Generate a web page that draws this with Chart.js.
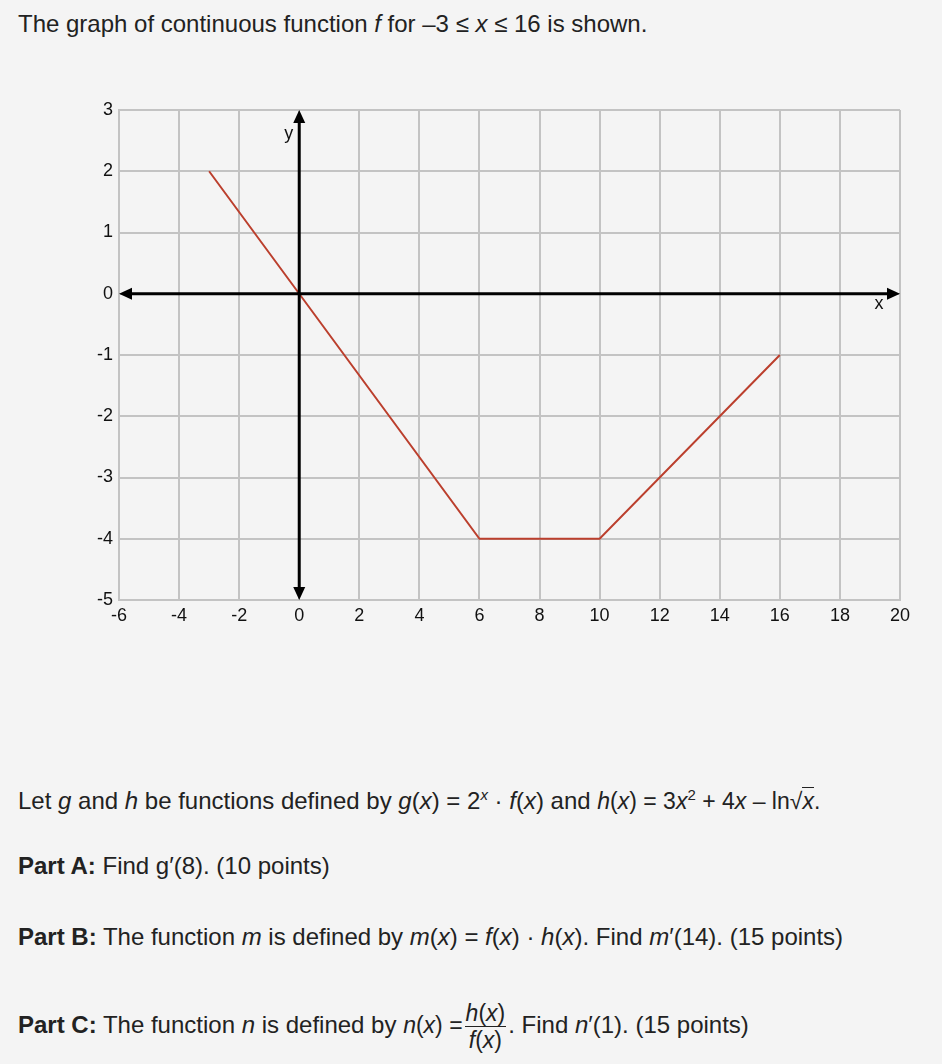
<!DOCTYPE html>
<html>
<head>
<meta charset="utf-8">
<script src="https://cdn.jsdelivr.net/npm/chart.js@4.4.1/dist/chart.umd.min.js"></script>
<style>
  body { margin: 0; background: #f4f4f4; color: #222; font-family: "Liberation Sans", Arial, Helvetica, sans-serif;
         width: 942px; height: 1064px; position: relative; overflow: hidden; }
  .t { position: absolute; left: 18px; font-size: 24px; line-height: 28px; white-space: nowrap; }
  .m { font-size: 23px; }
  .sq { border-top: 1.5px solid #222; }
  .frac { display: inline-block; vertical-align: middle; text-align: center; font-size: 23px; line-height: 26px; margin: 0 2px; }
  .frac span { display: block; }
  .frac .num { border-bottom: 1.5px solid #222; padding: 0 1px; }
  #wrap { position: absolute; left: 0; top: 90px; width: 942px; height: 550px; }
</style>
</head>
<body>
<div class="t" style="top:10px">The graph of continuous function <i>f</i> for –3 ≤ <i>x</i> ≤ 16 is shown.</div>
<div id="wrap"><canvas id="chart"></canvas></div>
<div class="t" style="top:781px">Let <i>g</i> and <i>h</i> be functions defined by <i>g</i>(<i>x</i>) = 2<sup style="font-size:15px"><i>x</i></sup> · <i>f</i>(<i>x</i>) and <span class="m"><i>h</i>(<i>x</i>) = 3<i>x</i><sup style="font-size:15px">2</sup> + 4<i>x</i> – ln√<span class="sq"><i>x</i></span>.</span></div>
<div class="t" style="top:852px"><b>Part A:</b> Find g′(8). (10 points)</div>
<div class="t" style="top:923px"><b>Part B:</b> The function <i>m</i> is defined by <i>m</i>(<i>x</i>) = <i>f</i>(<i>x</i>) · <i>h</i>(<i>x</i>). Find <i>m</i>′(14). (15 points)</div>
<div class="t" style="top:1000px"><b>Part C:</b> The function <i>n</i> is defined by <span class="m"><i>n</i>(<i>x</i>) =</span><span class="frac"><span class="num"><i>h</i>(<i>x</i>)</span><span><i>f</i>(<i>x</i>)</span></span>. Find <i>n</i>′(1). (15 points)</div>

<script>
// graph of f
var fX = [-3, 0, 6, 10, 16];
var fY = [2, 0, -4, -4, -1];

// axis ranges / ticks
var xMin = -6, xMax = 20, xStep = 2;
var yMin = -5, yMax = 3, yStep = 1;

var points = fX.map(function(x, i) { return {x: x, y: fY[i]}; });

function arrow(ctx, x, y, dir) {
  var L = 13, W = 6;
  ctx.beginPath();
  if (dir === "up") { ctx.moveTo(x, y); ctx.lineTo(x - W, y + L); ctx.lineTo(x + W, y + L); }
  if (dir === "down") { ctx.moveTo(x, y); ctx.lineTo(x - W, y - L); ctx.lineTo(x + W, y - L); }
  if (dir === "left") { ctx.moveTo(x, y); ctx.lineTo(x + L, y - W); ctx.lineTo(x + L, y + W); }
  if (dir === "right") { ctx.moveTo(x, y); ctx.lineTo(x - L, y - W); ctx.lineTo(x - L, y + W); }
  ctx.closePath();
  ctx.fill();
}

var axesPlugin = {
  id: "axes",
  afterDatasetsDraw: function(chart) {
    var ctx = chart.ctx, xs = chart.scales.x, ys = chart.scales.y;
    var x0 = xs.getPixelForValue(0), y0 = ys.getPixelForValue(0);
    var l = xs.getPixelForValue(xMin), r = xs.getPixelForValue(xMax);
    var t = ys.getPixelForValue(yMax), b = ys.getPixelForValue(yMin);
    ctx.save();
    ctx.strokeStyle = "#000";
    ctx.fillStyle = "#000";
    ctx.lineWidth = 3;
    ctx.beginPath();
    ctx.moveTo(l + 8, y0); ctx.lineTo(r - 8, y0);
    ctx.moveTo(x0, t + 8); ctx.lineTo(x0, b - 8);
    ctx.stroke();
    arrow(ctx, l, y0, "left");
    arrow(ctx, r, y0, "right");
    arrow(ctx, x0, t, "up");
    arrow(ctx, x0, b, "down");
    ctx.font = "18px 'Liberation Sans', Arial, sans-serif";
    ctx.fillStyle = "#111";
    ctx.textAlign = "center";
    ctx.textBaseline = "middle";
    ctx.fillText("y", xs.getPixelForValue(-0.35), ys.getPixelForValue(2.6));
    ctx.fillText("x", xs.getPixelForValue(19.3), ys.getPixelForValue(-0.16));
    ctx.restore();
  }
};

var tickFont = { size: 18, family: "'Liberation Sans', Arial, sans-serif" };

new Chart(document.getElementById("chart").getContext("2d"), {
  type: "scatter",
  data: {
    datasets: [{
      data: points,
      showLine: true,
      borderColor: "#bb3f2d",
      borderWidth: 2,
      pointRadius: 0,
      tension: 0
    }]
  },
  options: {
    responsive: true,
    maintainAspectRatio: false,
    animation: false,
    events: [],
    layout: { padding: { left: 0, right: 42, top: 20, bottom: 0 } },
    plugins: { legend: { display: false }, tooltip: { enabled: false } },
    scales: {
      x: {
        type: "linear", min: xMin, max: xMax,
        afterFit: function(s) { s.height = 40; },
        ticks: { stepSize: xStep, padding: 5, color: "#111", font: tickFont, maxRotation: 0 },
        grid: { color: "#c3c3c3", lineWidth: 2, drawTicks: false },
        border: { color: "#c3c3c3", width: 2 }
      },
      y: {
        type: "linear", min: yMin, max: yMax,
        afterFit: function(s) { s.width = 119; },
        ticks: { stepSize: yStep, padding: 6, color: "#111", font: tickFont },
        grid: { color: "#c3c3c3", lineWidth: 2, drawTicks: false },
        border: { color: "#c3c3c3", width: 2 }
      }
    }
  },
  plugins: [axesPlugin]
});
</script>
</body>
</html>
